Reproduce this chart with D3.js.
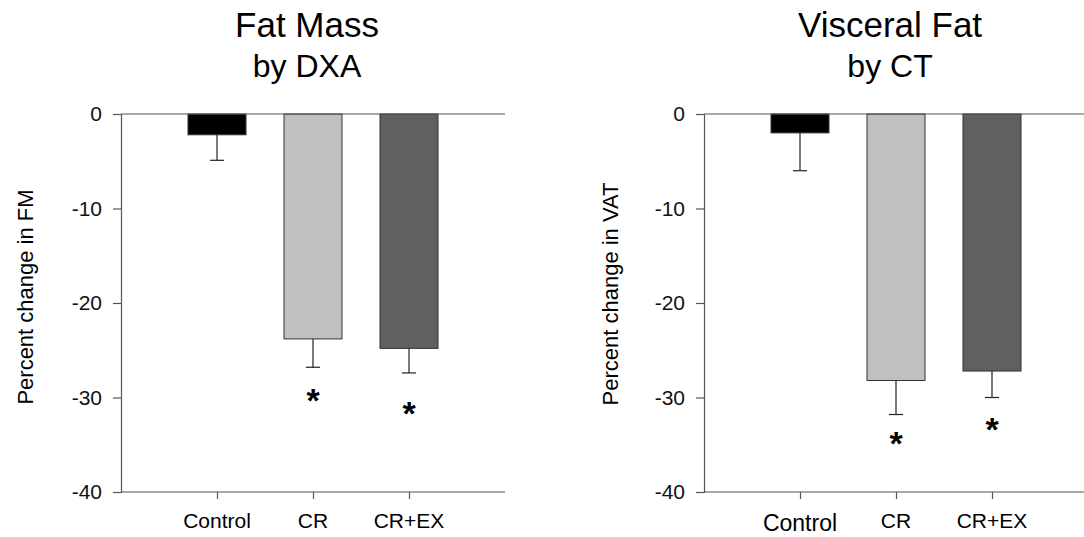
<!DOCTYPE html>
<html>
<head>
<meta charset="utf-8">
<script src="https://cdn.jsdelivr.net/npm/d3@7"></script>
<style>
  body { margin: 0; background: #fff; }
  text { font-family: "Liberation Sans", Arial, sans-serif; }
</style>
</head>
<body>
<div id="chart"></div>
<script>
// groups shared by both panels
var groups = ["Control", "CR", "CR+EX"];
var barColors = ["#000000", "#c0c0c0", "#606060"];
var yTicks = [0, -10, -20, -30, -40];

// fat mass by DXA
var fmMean = [-2.2, -23.8, -24.8];
var fmErr = [2.7, 3.0, 2.6];
var fmStar = [null, -29.7, -31.1];

// visceral fat by CT
var vatMean = [-2.0, -28.2, -27.2];
var vatErr = [4.0, 3.6, 2.8];
var vatStar = [null, -34.3, -32.8];

var svg = d3.select("#chart").append("svg")
  .attr("width", 1084).attr("height", 537);

function drawPanel(opt) {
  var g = svg.append("g");
  var x = d3.scaleLinear().domain([0, 4]).range([opt.left, opt.left + 384]);
  var y = d3.scaleLinear().domain([0, -40]).range([114, 492]);
  var bw = 58;

  // titles
  g.append("text").attr("x", opt.titleX).attr("y", 37)
    .attr("text-anchor", "middle").attr("font-size", 35).text(opt.title1);
  g.append("text").attr("x", opt.titleX).attr("y", 77)
    .attr("text-anchor", "middle").attr("font-size", 32).text(opt.title2);

  // y label
  g.append("text")
    .attr("transform", "translate(" + opt.labelX + "," + opt.labelY + ") rotate(-90)")
    .attr("text-anchor", "middle").attr("font-size", 22).text(opt.ylabel);

  var data = groups.map(function(d, i) {
    return { name: d, mean: opt.mean[i], err: opt.err[i], star: opt.star[i], i: i };
  });

  // bars
  g.selectAll("rect.bar").data(data).enter().append("rect")
    .attr("class", "bar")
    .attr("x", function(d) { return x(d.i + 1) - bw / 2; })
    .attr("y", y(0))
    .attr("width", bw)
    .attr("height", function(d) { return y(d.mean) - y(0); })
    .attr("fill", function(d) { return barColors[d.i]; })
    .attr("stroke", "#333").attr("stroke-width", 1);

  // error bars (down only)
  var eb = g.selectAll("g.err").data(data).enter().append("g").attr("class", "err");
  eb.append("line")
    .attr("x1", function(d) { return x(d.i + 1); })
    .attr("x2", function(d) { return x(d.i + 1); })
    .attr("y1", function(d) { return y(d.mean); })
    .attr("y2", function(d) { return y(d.mean - d.err); })
    .attr("stroke", "#222").attr("stroke-width", 1.2);
  eb.append("line")
    .attr("x1", function(d) { return x(d.i + 1) - 7; })
    .attr("x2", function(d) { return x(d.i + 1) + 7; })
    .attr("y1", function(d) { return y(d.mean - d.err); })
    .attr("y2", function(d) { return y(d.mean - d.err); })
    .attr("stroke", "#222").attr("stroke-width", 1.2);

  // asterisks
  g.selectAll("text.star").data(data.filter(function(d) { return d.star != null; }))
    .enter().append("text").attr("class", "star")
    .attr("x", function(d) { return x(d.i + 1); })
    .attr("y", function(d) { return y(d.star) + 17; })
    .attr("text-anchor", "middle").attr("font-size", 34).attr("font-weight", "bold")
    .text("*");

  // y axis
  var yAxis = g.append("g").attr("transform", "translate(" + opt.left + ",0)")
    .call(d3.axisLeft(y).tickValues(yTicks).tickSize(8).tickPadding(11)
      .tickFormat(function(d) { return String(d); }));
  yAxis.selectAll("text").attr("font-size", 21).attr("fill", "#111")
    .attr("font-family", "Liberation Sans, Arial, sans-serif");

  // bottom axis
  var xAxis = g.append("g").attr("transform", "translate(0," + y(-40) + ")")
    .call(d3.axisBottom(x).tickValues([1, 2, 3]).tickSize(7).tickFormat(""));
  xAxis.select(".domain").attr("d", "M" + opt.left + ",0H" + (opt.left + 384));
  g.selectAll(".domain, .tick line").attr("stroke", "#555").attr("stroke-width", 1.2);

  // zero line
  g.append("line")
    .attr("x1", opt.left).attr("x2", opt.left + 384)
    .attr("y1", y(0)).attr("y2", y(0))
    .attr("stroke", "#555").attr("stroke-width", 1.2);

  // group labels
  g.selectAll("text.cat").data(data).enter().append("text").attr("class", "cat")
    .attr("x", function(d) { return x(d.i + 1); })
    .attr("y", function(d) { return opt.catY[d.i]; })
    .attr("text-anchor", "middle")
    .attr("font-size", function(d) { return opt.catSize[d.i]; })
    .text(function(d) { return d.name; });
}

drawPanel({
  left: 121, titleX: 307, labelX: 33, labelY: 297,
  title1: "Fat Mass", title2: "by DXA", ylabel: "Percent change in FM",
  mean: fmMean, err: fmErr, star: fmStar,
  catY: [528, 528, 528], catSize: [21, 21, 21]
});

drawPanel({
  left: 704, titleX: 890, labelX: 618, labelY: 294,
  title1: "Visceral Fat", title2: "by CT", ylabel: "Percent change in VAT",
  mean: vatMean, err: vatErr, star: vatStar,
  catY: [531, 528, 528], catSize: [23, 21, 21]
});
</script>
</body>
</html>
